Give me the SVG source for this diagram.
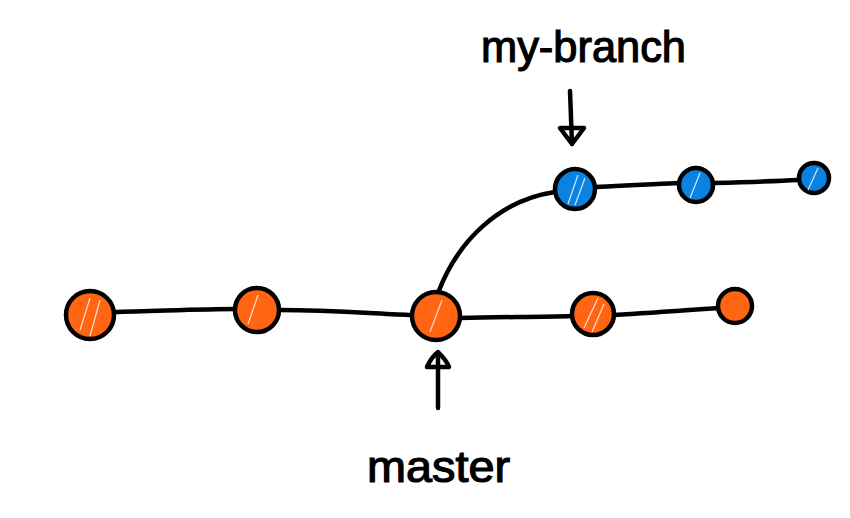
<svg xmlns="http://www.w3.org/2000/svg" width="850" height="518" viewBox="0 0 850 518">
<defs>
<style>
.edge{fill:none;stroke:#000;stroke-width:4.5;stroke-linecap:round;stroke-linejoin:round}
.o{fill:#ff6512;stroke:#000;stroke-width:4.5}
.b{fill:#0a82e0;stroke:#000;stroke-width:4.5}
.lbl{font-family:"Liberation Sans",Arial,sans-serif;font-size:44px;fill:#000;stroke:#000;stroke-width:1.2}
.hatch{stroke:#fff;stroke-width:1.2;opacity:0.8}
</style>
</defs>
<rect width="850" height="518" fill="#fff"/>
<g id="connectors">
<path class="edge" d="M112,312 C160,311 200,309 236,309"/>
<path class="edge" d="M279,310 C330,310 380,314 412,315"/>
<path class="edge" d="M460,318 C500,317 540,317 572,316"/>
<path class="edge" d="M614,315 C650,313 690,310 718,308"/>
<path class="edge" d="M438,293 C458,240 500,200 555,192"/>
<path class="edge" d="M595,187 C630,185 660,184 679,183"/>
<path class="edge" d="M713,183 C750,182 780,181 798,180"/>
<path class="edge" d="M570,91 L572,144 M560,128 L584,128 L572,144 Z"/>
<path class="edge" d="M438,408 L438,356 M427,367 C430,360 434,355 438,352 C442,356 447,361 449,367 Z"/>
</g>
<g id="c1"><circle class="o" cx="90" cy="315" r="24"/><path class="hatch" d="M80,330 L90,298 M90,336 L100,300"/></g>
<g id="c2"><circle class="o" cx="257" cy="310" r="22"/><path class="hatch" d="M248,324 L258,295"/></g>
<g id="c3"><circle class="o" cx="436" cy="316" r="24"/><path class="hatch" d="M430,332 L442,300"/></g>
<g id="c4"><circle class="o" cx="593" cy="314" r="21"/><path class="hatch" d="M584,328 L598,298 M592,332 L604,304"/></g>
<g id="c5"><circle class="o" cx="735" cy="306" r="17"/></g>
<g id="b1"><circle class="b" cx="575" cy="189" r="20"/><path class="hatch" d="M568,204 L578,175 M575,205 L585,178"/></g>
<g id="b2"><circle class="b" cx="696" cy="185" r="17"/><path class="hatch" d="M690,198 L700,173"/></g>
<g id="b3"><circle class="b" cx="814" cy="178" r="15"/><path class="hatch" d="M808,190 L818,168"/></g>
<g id="label-my-branch"><text class="lbl" x="481" y="62" textLength="205" lengthAdjust="spacingAndGlyphs">my-branch</text></g>
<g id="label-master"><text class="lbl" x="367" y="482" textLength="143" lengthAdjust="spacingAndGlyphs">master</text></g>
</svg>
